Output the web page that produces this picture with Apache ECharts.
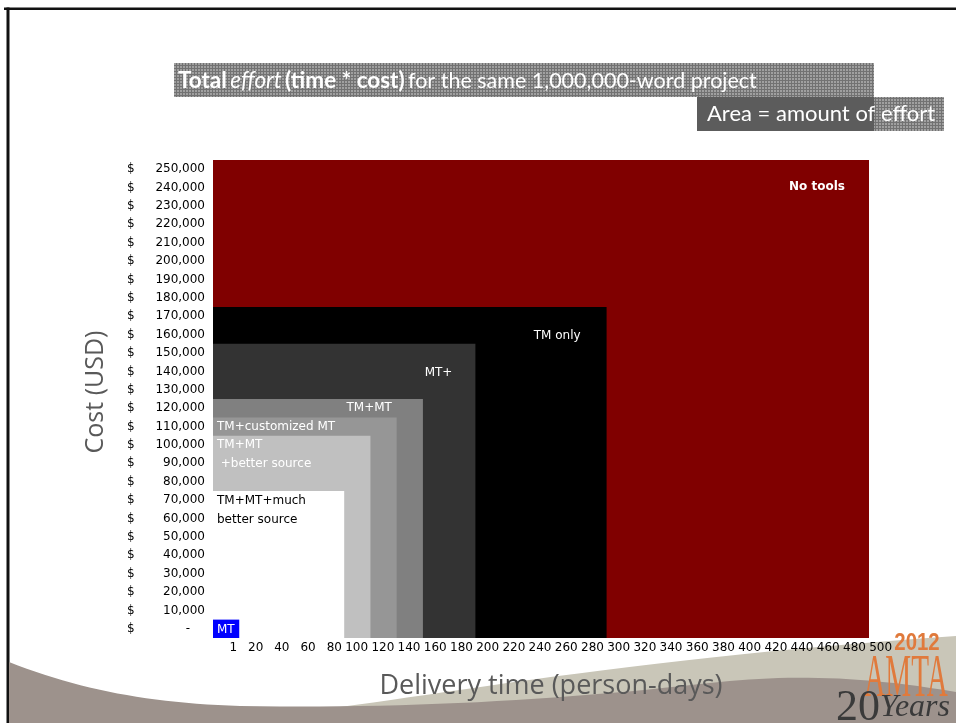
<!DOCTYPE html>
<html>
<head>
<meta charset="utf-8">
<script src="https://cdn.jsdelivr.net/npm/echarts@6/dist/echarts.min.js"></script>
<style>
  html, body { margin: 0; padding: 0; background: #ffffff; }
  #chart { width: 956px; height: 723px; }
</style>
</head>
<body>
<div id="chart"></div>
<script>
// Delivery-time tick labels (person-days)
const dayTicks = ['1', '20', '40', '60', '80', '100', '120', '140', '160', '180', '200', '220', '240',
  '260', '280', '300', '320', '340', '360', '380', '400', '420', '440', '460', '480', '500'];

// Cost tick labels (USD), bottom to top
const costTicks = [0, 10000, 20000, 30000, 40000, 50000, 60000, 70000, 80000, 90000, 100000,
  110000, 120000, 130000, 140000, 150000, 160000, 170000, 180000, 190000, 200000,
  210000, 220000, 230000, 240000, 250000];

// Scenarios, largest first so the smaller ones are painted on top
const scenarios = ['No tools', 'TM only', 'MT+', 'TM+MT', 'TM+customized MT',
  'TM+MT\n +better source', 'TM+MT+much\nbetter source', 'MT'];
const deliveryDays = [500, 300, 200, 160, 140, 120, 100, 20];
const costUSD = [260000, 180000, 160000, 130000, 120000, 110000, 80000, 10000];

// Appearance of each scenario block and its caption
const blockColors = ['#800000', '#000000', '#333333', '#808080', '#969696', '#c0c0c0', '#ffffff', '#0000ff'];
const captionStyle = [
  { side: 'right', dx: -24, dy: 27, color: '#ffffff', weight: 'bold' },
  { side: 'right', dx: -26, dy: 29, color: '#ffffff', weight: 'normal' },
  { side: 'right', dx: -23, dy: 29, color: '#ffffff', weight: 'normal' },
  { side: 'right', dx: -31, dy: 9, color: '#ffffff', weight: 'normal' },
  { side: 'left', dx: 4, dy: 9, color: '#ffffff', weight: 'normal' },
  { side: 'left', dx: 4, dy: 9, color: '#ffffff', weight: 'normal', lh: 19 },
  { side: 'left', dx: 4, dy: 10, color: '#000000', weight: 'normal', lh: 18.5 },
  { side: 'left', dx: 4, dy: 10, color: '#ffffff', weight: 'normal' }
];

const TICK_FONT = '"DejaVu Sans", Tahoma, sans-serif';
const TITLE_FONT = 'Lato, "Open Sans", sans-serif';

// Dotted texture for the title banners
const texture = document.createElement('canvas');
texture.width = 3; texture.height = 3;
(function () {
  const g = texture.getContext('2d');
  g.fillStyle = '#727272'; g.fillRect(0, 0, 3, 3);
  g.fillStyle = '#a0a0a0'; g.fillRect(0, 0, 2, 2);
})();

// Sample a chain of cubic Bézier segments into polygon points (decorative swoosh)
function bezierOutline(start, segments, tail) {
  const pts = [start.slice()];
  let p0 = start;
  segments.forEach(function (s) {
    const c1 = s[0], c2 = s[1], p3 = s[2];
    for (let k = 1; k <= 24; k++) {
      const t = k / 24, u = 1 - t;
      pts.push([
        u * u * u * p0[0] + 3 * u * u * t * c1[0] + 3 * u * t * t * c2[0] + t * t * t * p3[0],
        u * u * u * p0[1] + 3 * u * u * t * c1[1] + 3 * u * t * t * c2[1] + t * t * t * p3[1]
      ]);
    }
    p0 = p3;
  });
  return pts.concat(tail);
}

const beigeBand = bezierOutline([340, 707],
  [[[470, 690], [640, 658], [956, 636]]],
  [[956, 723], [340, 723]]);
const taupeBand = bezierOutline([9, 662],
  [[[80, 690], [150, 703], [240, 706]],
   [[400, 709], [560, 700], [700, 684]],
   [[780, 675], [850, 674], [956, 692]]],
  [[956, 723], [9, 723]]);

const chart = echarts.init(document.getElementById('chart'), null, { renderer: 'canvas' });

const blockData = deliveryDays.map((d, i) => [d, costUSD[i], i]);

const option = {
  backgroundColor: '#ffffff',
  animation: false,
  grid: [
    { left: 213, right: 87, top: 160, bottom: 85 },
    { left: 237.1, right: 63.9, top: 160, bottom: 85 }
  ],
  xAxis: [
    { type: 'value', gridIndex: 0, min: 0, max: 500, show: false },
    {
      type: 'category', gridIndex: 1, data: dayTicks, boundaryGap: false, position: 'bottom',
      axisLine: { show: false }, axisTick: { show: false }, splitLine: { show: false },
      axisLabel: {
        interval: 0, hideOverlap: false, align: 'right', margin: 4,
        color: '#000000', fontSize: 12, fontFamily: TICK_FONT
      }
    }
  ],
  yAxis: [
    { type: 'value', gridIndex: 0, min: 0, max: 260000, show: false },
    {
      type: 'category', gridIndex: 0, position: 'left', data: costTicks.map(String), boundaryGap: true,
      axisLine: { show: false }, axisTick: { show: false }, splitLine: { show: false },
      axisLabel: {
        interval: 0, hideOverlap: false, margin: 8, color: '#000000',
        fontSize: 12, fontFamily: TICK_FONT,
        formatter: function (v) {
          const n = Number(v);
          if (n === 0) return '{c|$}{z|-}';
          return '{c|$}{v|' + n.toLocaleString('en-US') + '}';
        },
        rich: {
          c: { width: 20, align: 'left', fontSize: 12, fontFamily: TICK_FONT, color: '#000' },
          v: { width: 58, align: 'right', fontSize: 12, fontFamily: TICK_FONT, color: '#000' },
          z: { width: 43, align: 'right', padding: [0, 15, 0, 0], fontSize: 12, fontFamily: TICK_FONT, color: '#000' }
        }
      }
    },
    { type: 'value', gridIndex: 1, min: 0, max: 1, show: false }
  ],
  series: [{
    type: 'custom',
    xAxisIndex: 0,
    yAxisIndex: 0,
    data: blockData,
    renderItem: function (params, api) {
      const i = api.value(2);
      const origin = api.coord([0, 0]);
      const corner = api.coord([api.value(0), api.value(1)]);
      const x0 = origin[0], y0 = origin[1], x1 = corner[0], y1 = corner[1];
      const cs = captionStyle[i];
      const lh = cs.lh || 14;
      const tx = cs.side === 'right' ? x1 + cs.dx : x0 + cs.dx;
      const ty = y1 + cs.dy - lh / 2;
      return {
        type: 'group',
        children: [
          {
            type: 'rect',
            shape: { x: x0, y: y1, width: x1 - x0, height: y0 - y1 },
            style: { fill: blockColors[i] }
          },
          {
            type: 'text',
            x: tx, y: ty,
            style: {
              text: scenarios[i],
              fill: cs.color,
              fontSize: 12,
              fontWeight: cs.weight,
              fontFamily: TICK_FONT,
              align: cs.side === 'right' ? 'right' : 'left',
              verticalAlign: 'top',
              lineHeight: lh
            }
          }
        ]
      };
    }
  }],
  graphic: [
    // slide frame
    { type: 'rect', shape: { x: 4, y: 7.5, width: 952, height: 2.5 }, style: { fill: '#111111' } },
    { type: 'rect', shape: { x: 6.5, y: 7.5, width: 3, height: 716 }, style: { fill: '#111111' } },

    // bottom swoosh
    { type: 'polygon', shape: { points: beigeBand }, style: { fill: '#c9c6b8' } },
    { type: 'polygon', shape: { points: taupeBand }, style: { fill: '#9d928c' } },

    // title banners
    { type: 'rect', shape: { x: 174, y: 63, width: 700, height: 34 }, style: { fill: { image: texture, repeat: 'repeat' } } },
    { type: 'rect', shape: { x: 697, y: 97, width: 247, height: 34 }, style: { fill: { image: texture, repeat: 'repeat' } } },
    { type: 'rect', shape: { x: 697, y: 97, width: 177, height: 34 }, style: { fill: '#5c5c5c' } },
    {
      type: 'text', x: 178, y: 81,
      style: {
        text: '{b|Total} {i|effort} {b|(time * cost)} {r|for the same 1,000,000-word project}',
        verticalAlign: 'middle', fill: '#ffffff',
        rich: {
          b: { fontFamily: TITLE_FONT, fontSize: 22.5, fontWeight: 'bold', fill: '#ffffff' },
          i: { fontFamily: TITLE_FONT, fontSize: 22.5, fontStyle: 'italic', fill: '#ffffff' },
          r: { fontFamily: TITLE_FONT, fontSize: 21.5, fill: '#ffffff' }
        }
      }
    },
    {
      type: 'text', x: 707, y: 114,
      style: { text: 'Area = amount of effort', fontFamily: TITLE_FONT, fontSize: 22, fill: '#ffffff', verticalAlign: 'middle' }
    },

    // axis titles
    {
      type: 'text', x: 96, y: 392, rotation: Math.PI / 2,
      style: { text: 'Cost (USD)', fontFamily: '"Open Sans", sans-serif', fontSize: 25, fill: '#595959', align: 'center', verticalAlign: 'middle' }
    },
    {
      type: 'text', x: 551, y: 686,
      style: { text: 'Delivery time (person-days)', fontFamily: '"Open Sans", sans-serif', fontSize: 27, fill: '#595959', align: 'center', verticalAlign: 'middle' }
    },

    // conference mark
    {
      type: 'text', x: 917, y: 643, scaleX: 0.85,
      style: { text: '2012', fontFamily: '"Liberation Sans", sans-serif', fontWeight: 'bold', fontSize: 24, fill: '#e07a3c', align: 'center', verticalAlign: 'middle' }
    },
    {
      type: 'text', x: 906, y: 680, scaleX: 0.47,
      style: { text: 'AMTA', fontFamily: '"Liberation Serif", serif', fontSize: 62, fill: '#e07a3c', align: 'center', verticalAlign: 'middle' }
    },
    {
      type: 'text', x: 893, y: 708,
      style: {
        text: '{n|20}{y|Years}', align: 'center', verticalAlign: 'middle',
        rich: {
          n: { fontFamily: '"Liberation Serif", serif', fontSize: 44, fill: '#3a3a3a' },
          y: { fontFamily: '"Liberation Serif", serif', fontStyle: 'italic', fontSize: 32, fill: '#3a3a3a' }
        }
      }
    }
  ]
};

chart.setOption(option);
</script>
</body>
</html>
